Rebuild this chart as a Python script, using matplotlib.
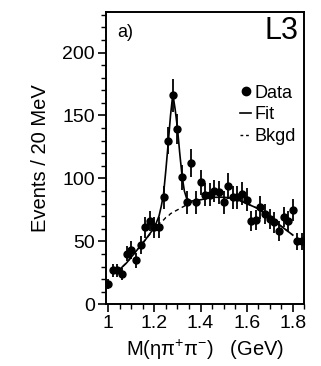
import numpy as np
import matplotlib.pyplot as plt
from matplotlib.ticker import MultipleLocator
from matplotlib.lines import Line2D

plt.rcParams['font.family'] = ['Liberation Sans', 'DejaVu Sans']
plt.rcParams['mathtext.default'] = 'regular'

# --- data (20 MeV bins) ---
mass = [1.00, 1.02, 1.04, 1.06, 1.08, 1.10, 1.12, 1.14, 1.16, 1.18,
        1.20, 1.22, 1.24, 1.26, 1.28, 1.30, 1.32, 1.34, 1.36, 1.38,
        1.40, 1.42, 1.44, 1.46, 1.48, 1.50, 1.52, 1.54, 1.56, 1.58,
        1.60, 1.62, 1.64, 1.66, 1.68, 1.70, 1.72, 1.74, 1.76, 1.78,
        1.80, 1.82, 1.84]
events = [16, 27, 27, 24, 40, 43, 35, 47, 61, 66,
          61, 61, 85, 130, 166, 139, 101, 81, 112, 81,
          97, 87, 87, 90, 89, 81, 94, 85, 85, 88,
          83, 66, 67, 77, 72, 68, 65, 58, 69, 66,
          75, 50, 50]
errors = [4, 5, 5, 5, 6, 7, 6, 7, 8, 8,
          8, 8, 9, 11, 13, 12, 10, 9, 11, 9,
          10, 9, 9, 9, 9, 9, 10, 9, 9, 9,
          9, 8, 8, 9, 8, 8, 8, 8, 8, 8,
          9, 7, 7]

# fit and background curves
curve_x = [1.04, 1.08, 1.12, 1.16, 1.20, 1.22, 1.23, 1.24, 1.25, 1.26,
           1.27, 1.28, 1.29, 1.30, 1.31, 1.32, 1.33, 1.34, 1.36, 1.40,
           1.45, 1.50, 1.55, 1.60, 1.65, 1.70, 1.75, 1.80]
fit_y = [26, 33, 42, 51, 61, 70, 78, 88, 107, 128,
         150, 167, 155, 140, 120, 102, 90, 84, 82, 83,
         85, 85, 84, 80, 76, 69, 62, 55]
bkgd_y = [26, 33, 42, 51, 60, 64, 66, 67, 69, 70,
          72, 73, 74, 75, 76, 77, 78, 79, 81, 83,
          85, 85, 84, 80, 76, 69, 62, 55]

fig = plt.figure(figsize=(3.21, 3.66), dpi=100)
ax = fig.add_axes([0.330, 0.1686, 0.618, 0.798])

ax.plot(curve_x, bkgd_y, color='black', lw=1.0, ls=(0, (3, 2.5)))
ax.plot(curve_x, fit_y, color='black', lw=1.2)
ax.errorbar(mass, events, yerr=errors, fmt='o', color='black', ms=5,
            elinewidth=1.3, capsize=0)

ax.set_xlim(0.99, 1.85)
ax.set_ylim(0, 232)
ax.xaxis.set_minor_locator(MultipleLocator(0.05))
ax.yaxis.set_major_locator(MultipleLocator(50))
ax.yaxis.set_minor_locator(MultipleLocator(10))
ax.set_xticks([1.0, 1.2, 1.4, 1.6, 1.8])
ax.set_xticklabels(['1', '1.2', '1.4', '1.6', '1.8'])
ax.tick_params(which='major', direction='out', length=6, width=1.2, labelsize=14, pad=2)
ax.tick_params(which='minor', direction='out', length=3.5, width=1.0)
for s in ax.spines.values():
    s.set_linewidth(1.4)

ax.set_ylabel('Events / 20 MeV', fontsize=14.5, labelpad=9)
ax.set_xlabel('M(ηπ$^{+}$π$^{-}$)   (GeV)', fontsize=14.5, labelpad=4)

ax.text(0.055, 0.93, 'a)', transform=ax.transAxes, fontsize=13, va='center')
ax.text(0.97, 0.935, 'L3', transform=ax.transAxes, fontsize=22, ha='right', va='center')

handles = [Line2D([], [], marker='o', ls='none', color='black', ms=6),
           Line2D([], [], color='black', lw=1.2),
           Line2D([], [], color='black', lw=1.0, ls=(0, (2, 2)))]
ax.legend(handles, ['Data', 'Fit', 'Bkgd'], loc='upper right',
          bbox_to_anchor=(0.985, 0.77), frameon=False, fontsize=13,
          handlelength=0.6, handletextpad=0.2, labelspacing=0.25,
          borderaxespad=0.2, borderpad=0.1)

fig.savefig('out.png', dpi=100)
